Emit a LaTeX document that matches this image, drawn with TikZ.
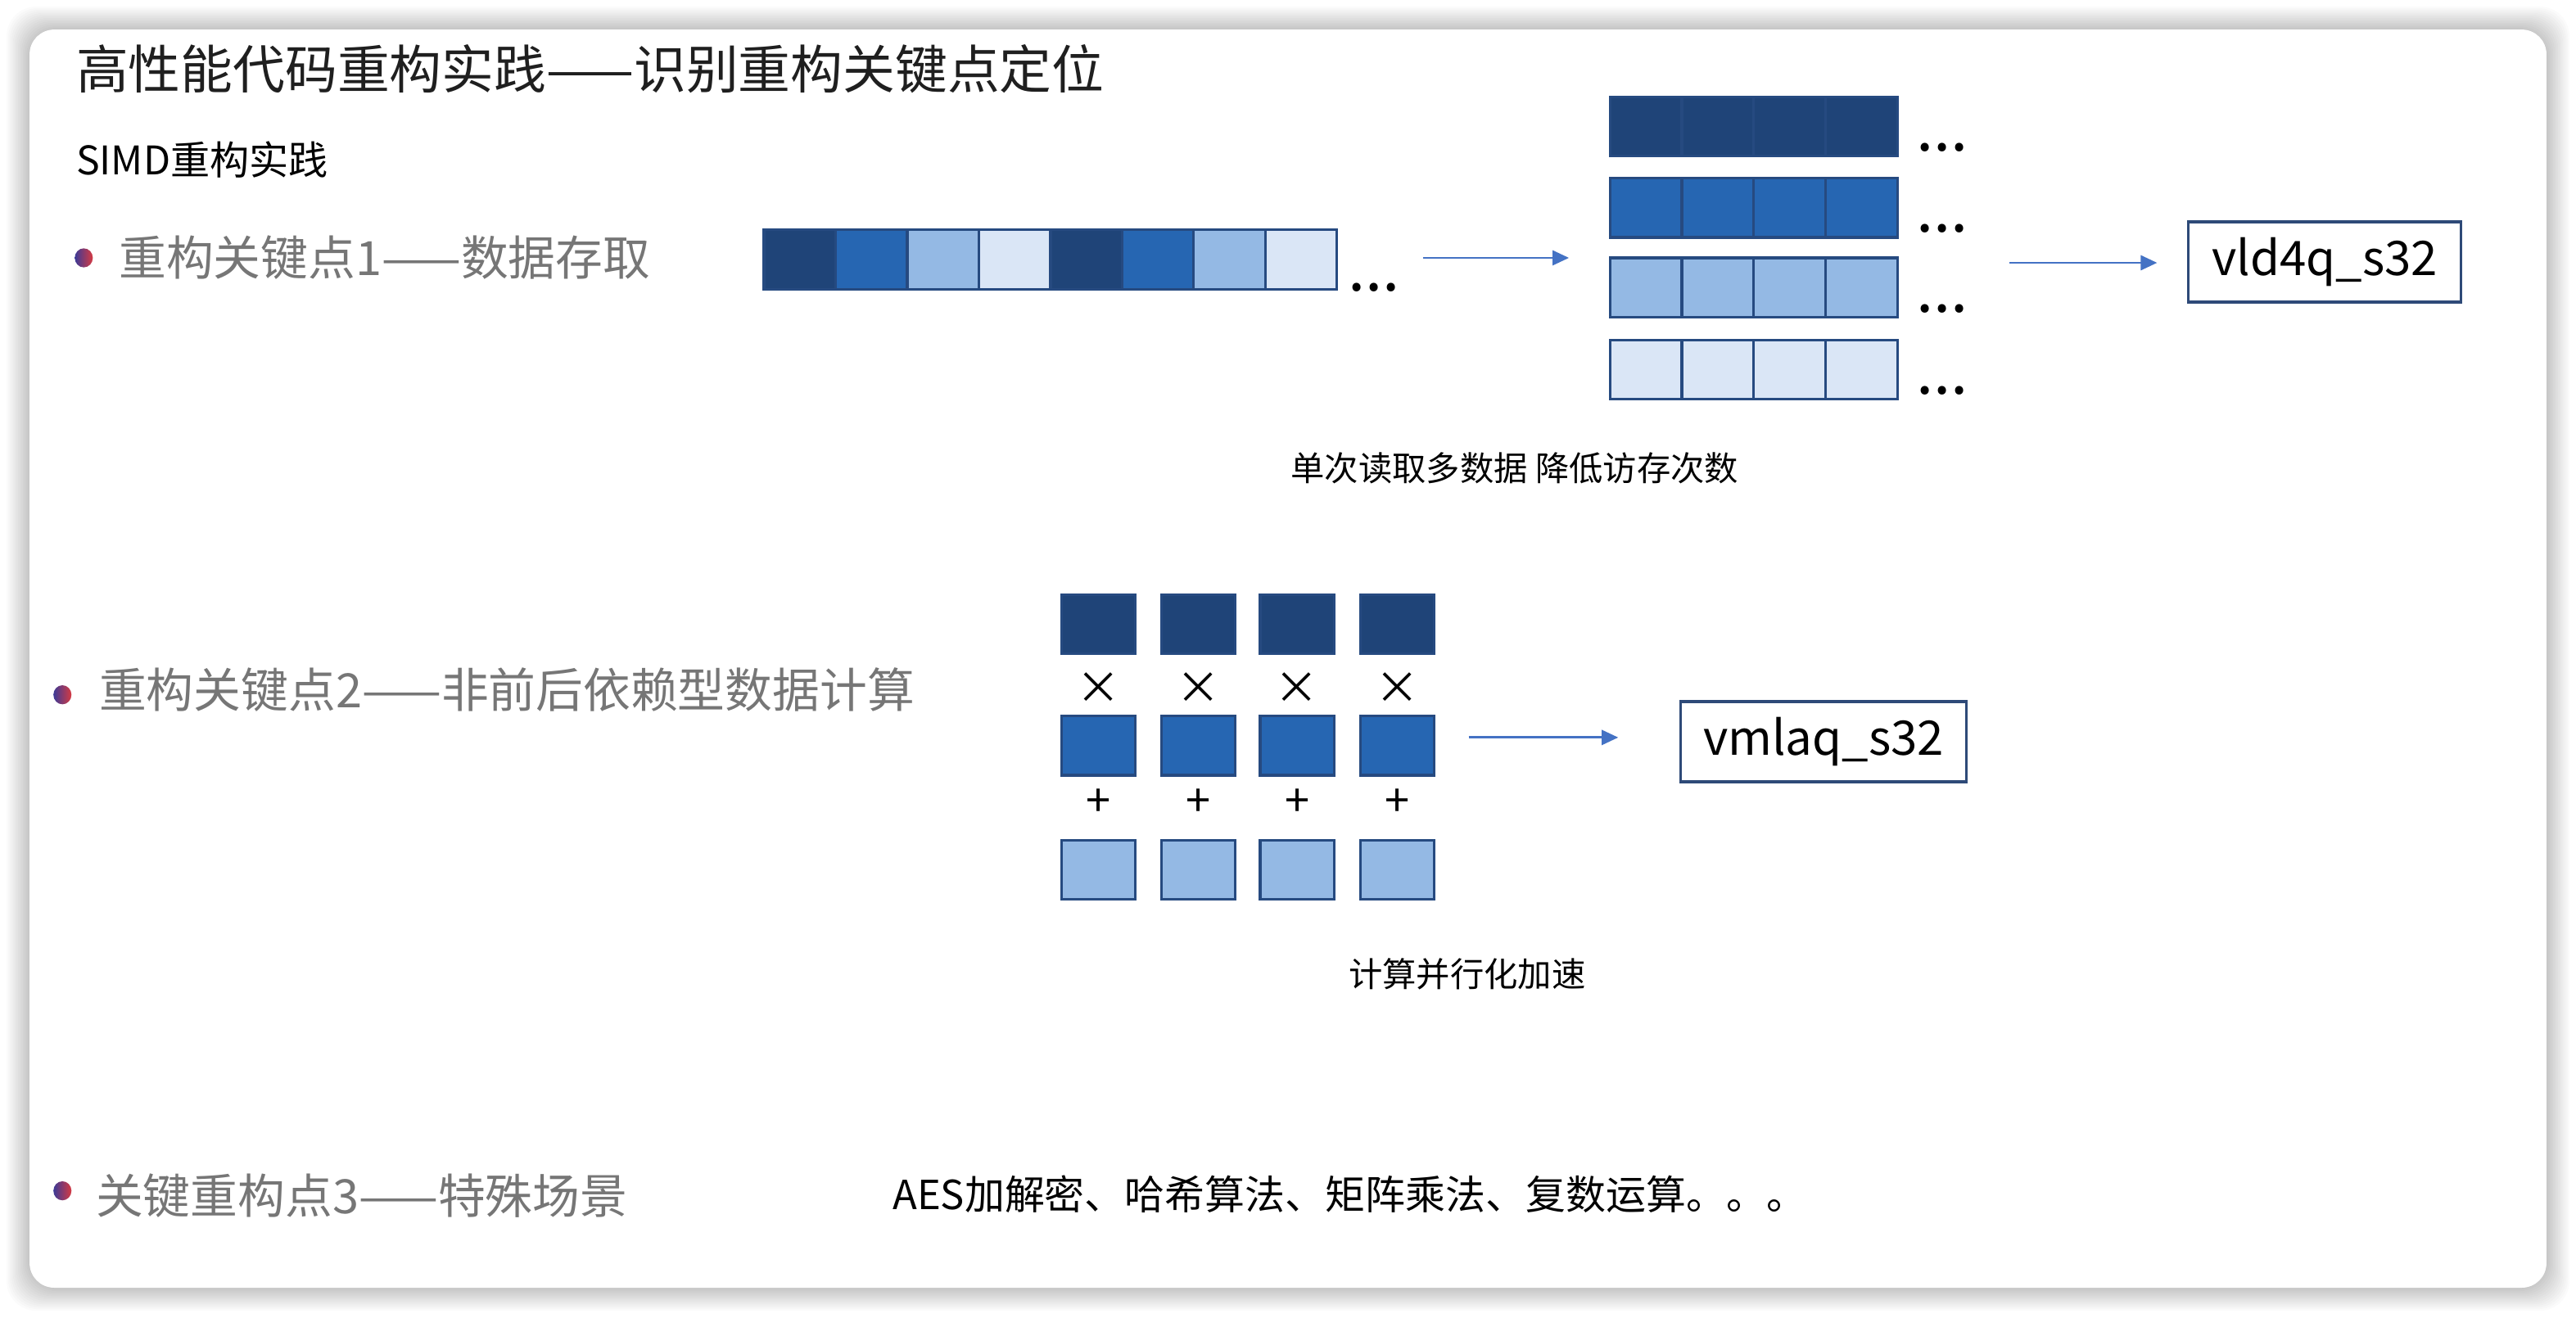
\documentclass[tikz,border=0pt]{standalone}
\usepackage{fontspec}
\setmainfont{Noto Sans CJK SC}
\usetikzlibrary{arrows.meta,shapes.geometric}

\begin{document}
\begin{tikzpicture}[x=0.5pt,y=-0.5pt,
  cell/.style={draw=cellline, line width=0.8pt, minimum width=21.8pt, minimum height=18pt, inner sep=0pt},
  sq/.style={draw=cellline, line width=0.8pt, minimum width=22.5pt, minimum height=18pt, inner sep=0pt},
  flow/.style={arrowblue, line width=0.7pt, -{Triangle[length=5pt,width=4.5pt]}},
  fnbox/.style={draw=boxline, line width=0.9pt, minimum height=24.5pt, inner sep=0pt, font=\fontsize{14.5}{16}\selectfont},
  point/.style={anchor=west, inner sep=0pt, text=pointgray, font=\fontsize{14.4}{16}\selectfont},
  bulletdot/.style={ellipse, minimum width=5.5pt, minimum height=5.8pt, inner sep=0pt, left color=bulletL, right color=bulletR},
  note/.style={inner sep=0pt, font=\fontsize{10.3}{12}\selectfont},
  dots/.style={anchor=base west, inner sep=0pt, font=\fontsize{19}{20}\selectfont},
  op/.style={inner sep=0pt, font=\fontsize{13.5}{14}\selectfont}]

% === Colors ===
\definecolor{dk}{RGB}{31,68,120}
\definecolor{md}{RGB}{38,102,178}
\definecolor{lt}{RGB}{148,185,228}
\definecolor{pl}{RGB}{218,230,246}
\definecolor{cellline}{RGB}{38,74,128}
\definecolor{arrowblue}{RGB}{68,114,196}
\definecolor{boxline}{RGB}{46,74,120}
\definecolor{pointgray}{RGB}{118,118,118}
\definecolor{bulletL}{RGB}{60,58,150}
\definecolor{bulletR}{RGB}{214,58,66}

\useasboundingbox (0,0) rectangle (1568,802);

% === Card with soft shadow ===
\fill[white] (0,0) rectangle (1568,802);
\foreach \s in {1,...,14}
  \fill[black, opacity=0.016, rounded corners=9pt] (18-\s,18-\s) rectangle (1550+\s,784+\s);
\fill[white, rounded corners=7.5pt] (18,18) rectangle (1550,784);

% === Headings ===
\node[anchor=west, inner sep=0pt, text=black!88, font=\fontsize{15.9}{18}\selectfont] (title) at (46,42)
  {高性能代码重构实践——识别重构关键点定位};
\node[anchor=west, inner sep=0pt, font=\fontsize{12}{14}\selectfont] (simd) at (46,97) {SIMD重构实践};

% === Key point 1: data access ===
\node[bulletdot] (dot1) at (51,157) {};
\node[point] (kp1) at (72,157) {重构关键点1——数据存取};

\foreach \c [count=\i] in {dk,md,lt,pl,dk,md,lt,pl}
  \node[cell, fill=\c] (bar\i) at ({465+21.8+43.6*(\i-1)},158) {};
\node[dots] (bardots) at (820,177) {...};

\coordinate (in1) at (866,157);
\coordinate (out1) at (955,157);
\draw[flow] (in1) -- (out1);

\foreach \c/\y [count=\r] in {dk/77, md/126.5, lt/175, pl/225} {
  \foreach \k in {1,...,4}
    \node[cell, minimum width=21.9pt, fill=\c] (row\r-\k) at ({980+21.9+43.75*(\k-1)},\y) {};
  \node[dots] (rowdots\r) at (1166,\y+15) {...};
}

\coordinate (in2) at (1223,160);
\coordinate (out2) at (1313,160);
\draw[flow] (in2) -- (out2);

\node[fnbox, minimum width=83pt] (vld) at (1415,159.5) {vld4q\_s32};
\node[note] (cap1) at (922,285) {单次读取多数据 降低访存次数};

% === Key point 2: independent computation ===
\node[bulletdot] (dot2) at (38,423) {};
\node[point] (kp2) at (60,420) {重构关键点2——非前后依赖型数据计算};

\foreach \x [count=\k] in {668.5,729.5,789.5,850.5} {
  \node[sq, fill=dk] (a\k) at (\x,380) {};
  \node[op] (mul\k) at (\x,419) {×};
  \node[sq, fill=md] (b\k) at (\x,454) {};
  \node[op] (add\k) at (\x,489) {+};
  \node[sq, fill=lt] (c\k) at (\x,529.5) {};
}

\coordinate (in3) at (894,449);
\coordinate (out3) at (985,449);
\draw[flow] (in3) -- (out3);

\node[fnbox, minimum width=87pt] (vmla) at (1110,451.5) {vmlaq\_s32};
\node[note] (cap2) at (893,593) {计算并行化加速};

% === Key point 3: special scenarios ===
\node[bulletdot] (dot3) at (38,725) {};
\node[point] (kp3) at (58,728) {关键重构点3——特殊场景};
\node[anchor=west, inner sep=0pt, font=\fontsize{12.2}{14}\selectfont] (cases) at (543,727)
  {AES加解密、哈希算法、矩阵乘法、复数运算。。。};

\end{tikzpicture}
\end{document}
